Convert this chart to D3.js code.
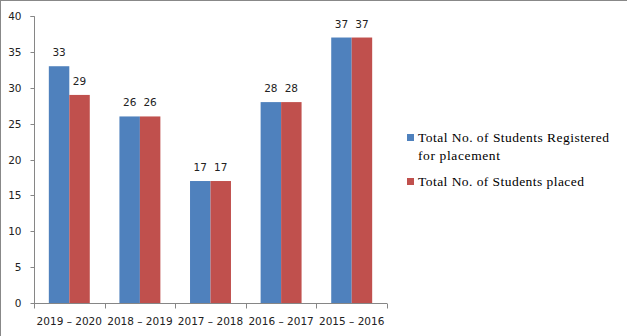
<!DOCTYPE html>
<html><head><meta charset="utf-8">
<script src="https://cdn.jsdelivr.net/npm/d3@7"></script>
<style>body{margin:0;background:#fff}svg{display:block}</style>
</head><body>
<script>
const categories = ["2019 – 2020","2018 – 2019","2017 – 2018","2016 – 2017","2015 – 2016"];
const registered = [33,26,17,28,37];
const placed = [29,26,17,28,37];
const seriesNames = ["Total No. of Students Registered for placement","Total No. of Students placed"];
const yTicks = [0,5,10,15,20,25,30,35,40];
const colors = ["#4F81BD","#C0504D"];

const W=627,H=336;
const svg=d3.select("body").append("svg").attr("width",W).attr("height",H);
svg.append("rect").attr("x",0.5).attr("y",0.5).attr("width",W+5).attr("height",H+5).attr("fill","#fff").attr("stroke","#888");

const x0=34, x1=387, yTop=16, yBot=303;
const x=d3.scaleBand().domain(categories).range([x0,x1]).paddingInner(0.42).paddingOuter(0.21);
const xs=d3.scaleBand().domain([0,1]).range([0,x.bandwidth()]);
const y=d3.scaleLinear().domain([0,40]).range([yBot,yTop]);

const data=categories.map((c,i)=>({c,v:[registered[i],placed[i]]}));
const g=svg.append("g");
data.forEach(d=>{
  d.v.forEach((v,j)=>{
    g.append("rect").attr("x",x(d.c)+xs(j)).attr("y",y(v)).attr("width",xs.bandwidth()).attr("height",y(0)-y(v)).attr("fill",colors[j]);
    g.append("text").attr("x",x(d.c)+xs(j)+xs.bandwidth()/2).attr("y",y(v)-10)
      .attr("text-anchor","middle").attr("font-family","DejaVu Sans").attr("font-size","10.5px").attr("fill","#222").text(v);
  });
});

// y axis
const ya=svg.append("g").attr("transform",`translate(${x0+0.5},0)`)
  .call(d3.axisLeft(y).tickValues(yTicks).tickSize(4).tickPadding(9));
ya.select(".domain").attr("stroke","#868686").attr("d",`M-4,${yTop+0.5}H0V${yBot+0.5}`);
ya.selectAll(".tick line").attr("stroke","#868686");
ya.selectAll(".tick").attr("transform",d=>`translate(0,${Math.round(y(d))+0.5})`);
ya.selectAll("text").attr("font-family","DejaVu Sans").attr("font-size","10.5px").attr("fill","#222");

// x axis
const xa=svg.append("g").attr("transform",`translate(0,${yBot+0.5})`);
xa.append("line").attr("x1",x0).attr("x2",x1).attr("stroke","#868686");
const bounds=[x0].concat(categories.map(c=>x(c)+x.bandwidth()+x.step()*x.paddingInner()/2));
bounds[bounds.length-1]=x1;
bounds.forEach(b=>xa.append("line").attr("x1",Math.round(b)+0.5).attr("x2",Math.round(b)+0.5).attr("y1",0).attr("y2",5).attr("stroke","#868686"));
categories.forEach(c=>xa.append("text").attr("x",x(c)+x.bandwidth()/2).attr("y",21).attr("text-anchor","middle")
  .attr("font-family","DejaVu Sans").attr("font-size","10.5px").attr("fill","#222").text(c));

// legend
const lg=svg.append("g").attr("font-family","'Liberation Serif', serif").attr("font-size","13.5px").attr("fill","#000");
lg.append("rect").attr("x",407).attr("y",134).attr("width",7).attr("height",7).attr("fill",colors[0]);
lg.append("text").attr("x",418).attr("y",142).attr("textLength",191).attr("lengthAdjust","spacing").text("Total No. of Students Registered");
lg.append("text").attr("x",418).attr("y",160).attr("textLength",82).attr("lengthAdjust","spacing").text("for placement");
lg.append("rect").attr("x",407).attr("y",178).attr("width",7).attr("height",7).attr("fill",colors[1]);
lg.append("text").attr("x",418).attr("y",186).attr("textLength",166).attr("lengthAdjust","spacing").text("Total No. of Students placed");
</script>
</body></html>
